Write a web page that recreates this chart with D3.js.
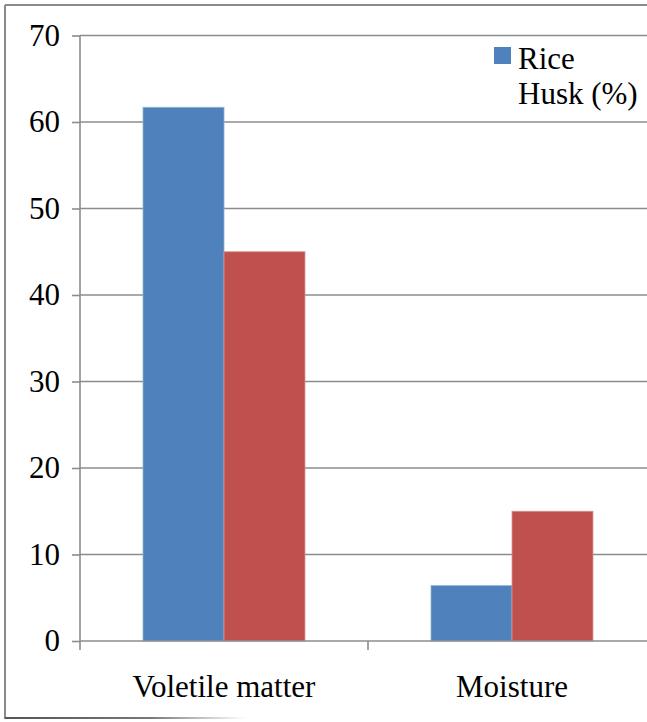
<!DOCTYPE html>
<html>
<head>
<meta charset="utf-8">
<script src="https://cdn.jsdelivr.net/npm/d3@7"></script>
</head>
<body style="margin:0">
<svg id="chart" width="647" height="722"></svg>
<script>
// Proximate analysis values
const categories = ["Voletile matter", "Moisture"];
const riceHusk = [61.7, 6.4];
const otherSeries = [45, 15];
const seriesNames = ["Rice Husk (%)", "series2"];
const yTicks = [0, 10, 20, 30, 40, 50, 60, 70];
const legendLines = ["Rice", "Husk (%)"];

const colors = ["#4f81bd", "#c0504d"];
const edges = ["#8fb0d8", "#d89290"];
const serif = "'Liberation Serif'";
const baseSize = 26;          // font size the text is set in
const k = 31 / baseSize;      // scale applied to reach the drawn size

const svg = d3.select("#chart");
const W = 647, H = 722;

// Plot area runs past the right edge of the page
const plot = { left: 80, right: 656, top: 35.5, bottom: 641 };

const x = d3.scaleBand().domain(categories).range([plot.left, plot.right]).paddingInner(0).paddingOuter(0);
const xs = d3.scaleBand().domain([0, 1]).range([0, x.bandwidth()]).paddingOuter(0.778).paddingInner(0);
const y = d3.scaleLinear().domain([0, 70]).range([plot.bottom, plot.top]);

// Outer frame
const frame = svg.append("g").attr("stroke", "#8a8a8a").attr("stroke-width", 2).attr("fill", "none");
frame.append("line").attr("x1", 5).attr("x2", W).attr("y1", 5).attr("y2", 5);
frame.append("line").attr("x1", 5).attr("x2", 5).attr("y1", 5).attr("y2", 719);
const defs = svg.append("defs");
const grad = defs.append("linearGradient").attr("id", "fade").attr("x1", "0").attr("x2", "1");
grad.append("stop").attr("offset", "0").attr("stop-color", "#555");
grad.append("stop").attr("offset", "0.6").attr("stop-color", "#777");
grad.append("stop").attr("offset", "1").attr("stop-color", "#fff");
svg.append("rect").attr("x", 5).attr("y", 717).attr("width", 240).attr("height", 2).attr("fill", "url(#fade)");

// Gridlines
svg.append("g").selectAll("line").data(yTicks.filter(d => d > 0)).join("line")
  .attr("x1", plot.left).attr("x2", plot.right)
  .attr("y1", d => y(d)).attr("y2", d => y(d))
  .attr("stroke", "#8c8c8c").attr("stroke-width", 1.6);

// Bars
const series = [riceHusk, otherSeries];
series.forEach((vals, si) => {
  svg.append("g").selectAll("rect").data(vals).join("rect")
    .attr("x", (d, i) => x(categories[i]) + xs(si))
    .attr("y", d => y(d))
    .attr("width", xs.bandwidth())
    .attr("height", d => y(0) - y(d))
    .attr("fill", colors[si])
    .attr("stroke", edges[si]).attr("stroke-width", 0.8);
});

// Y axis
const yAxis = d3.axisLeft(y).tickValues(yTicks).tickSize(8).tickPadding(12).tickFormat(d3.format("d"));
const gy = svg.append("g").attr("transform", `translate(${plot.left},0)`).call(yAxis);
gy.attr("font-family", null).attr("font-size", null);
gy.select(".domain").attr("stroke", "#8c8c8c").attr("stroke-width", 1.6).attr("d", `M0,${plot.top}V${plot.bottom}`);
gy.selectAll(".tick line").attr("stroke", "#8c8c8c").attr("stroke-width", 1.6);
gy.selectAll(".tick text")
  .style("font-family", serif).style("font-size", baseSize + "px")
  .attr("x", -20 / k).attr("transform", `scale(${k})`);

// X axis
const xAxis = d3.axisBottom(x).tickSize(0).tickPadding(34);
const gx = svg.append("g").attr("transform", `translate(0,${plot.bottom})`).call(xAxis);
gx.attr("font-family", null).attr("font-size", null);
gx.select(".domain").attr("stroke", "#8c8c8c").attr("stroke-width", 1.6).attr("d", `M${plot.left},0H${plot.right}`);
gx.selectAll(".tick text")
  .style("font-family", serif).style("font-size", baseSize + "px")
  .attr("y", 34 / k).attr("transform", `scale(${k})`);
// Category boundary ticks
const bounds = [plot.left, ...categories.map(c => x(c) + x.bandwidth())];
svg.append("g").selectAll("line").data(bounds).join("line")
  .attr("x1", d => d).attr("x2", d => d)
  .attr("y1", plot.bottom).attr("y2", plot.bottom + 9)
  .attr("stroke", "#8c8c8c").attr("stroke-width", 1.6);

// Legend
svg.append("rect").attr("x", 494).attr("y", 47).attr("width", 17).attr("height", 17).attr("fill", colors[0]);
svg.selectAll("text.legend").data(legendLines).join("text")
  .attr("class", "legend")
  .attr("transform", (d, i) => `translate(518,${69 + i * 35}) scale(${k})`)
  .style("font-family", serif).style("font-size", baseSize + "px")
  .text(d => d);
</script>
</body>
</html>
